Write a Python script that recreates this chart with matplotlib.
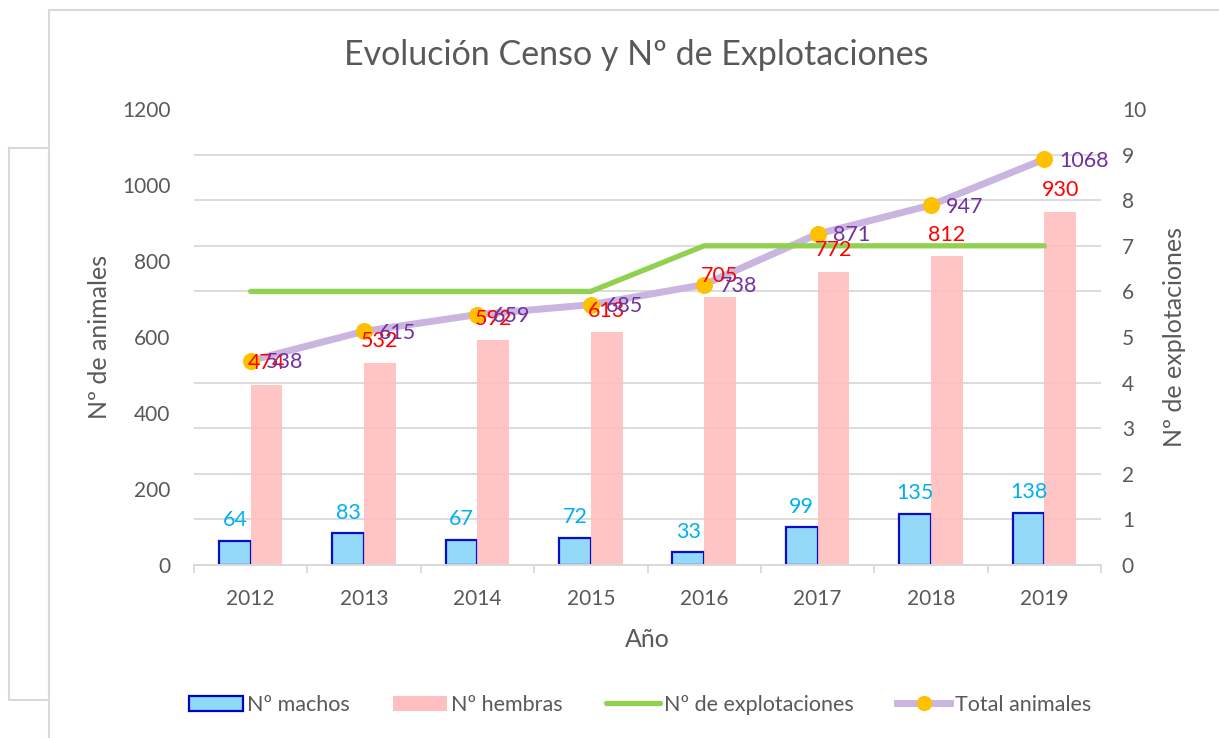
import numpy as np
import matplotlib.pyplot as plt
from matplotlib.lines import Line2D
from matplotlib.patches import Patch

plt.rcParams['font.family'] = ['Lato', 'DejaVu Sans']

years = ['2012', '2013', '2014', '2015', '2016', '2017', '2018', '2019']
machos = [64, 83, 67, 72, 33, 99, 135, 138]
hembras = [474, 532, 592, 613, 705, 772, 812, 930]
explotaciones = [6, 6, 6, 6, 7, 7, 7, 7]
total = [538, 615, 659, 685, 738, 871, 947, 1068]

text_grey = '#595959'
grid_grey = '#D9D9D9'
c_machos = '#8ED8F8'
c_machos_edge = '#0000C8'
c_hembras = '#FFBFBF'
c_expl = '#92D050'
c_total = '#C9B5E0'
c_marker = '#FFC000'

W, H = 1219, 738
fig = plt.figure(figsize=(W / 100, H / 100), dpi=100)

def fx(px):
    return px / W

def fy(py):
    return 1 - py / H

ax = fig.add_axes([fx(194), fy(565), fx(1101) - fx(194), fy(109) - fy(565)])
ax2 = ax.twinx()

x = np.arange(len(years))
bw = 0.28

# grid lines follow the secondary axis (0..10)
ax.set_ylim(0, 1200)
ax.set_yticks(np.arange(0, 1201, 200))
ax.set_yticks(np.linspace(0, 1200, 11), minor=True)
ax.grid(True, which='minor', axis='y', color=grid_grey, linewidth=1.3, zorder=0)
ax.set_axisbelow(True)

ax.bar(x - bw / 2, machos, bw, color=c_machos, edgecolor=c_machos_edge, linewidth=1.6, alpha=0.95, zorder=2)
ax.bar(x + bw / 2, hembras, bw, color=c_hembras, alpha=0.9, linewidth=0, zorder=2)
ax.plot(x, total, color=c_total, linewidth=5, zorder=3, solid_capstyle='round')
ax.scatter(x, total, s=150, color=c_marker, zorder=4, linewidths=0)

ax2.plot(x, explotaciones, color=c_expl, linewidth=3.8, solid_capstyle='round', zorder=3)
ax2.set_ylim(0, 10)
ax2.set_yticks(np.arange(0, 11, 1))

# data labels
for i in range(len(years)):
    ax2.annotate(str(machos[i]), xy=(x[i] - bw / 2, machos[i]), xycoords=ax.transData,
                 xytext=(0, 15), textcoords='offset points', ha='center', va='center',
                 color='#00B0F0', fontsize=15.5)
    ax2.annotate(str(hembras[i]), xy=(x[i] + bw / 2, hembras[i]), xycoords=ax.transData,
                 xytext=(0, 15.5), textcoords='offset points', ha='center', va='center',
                 color='#FF0000', fontsize=15.5)
    ax2.annotate(str(total[i]), xy=(x[i], total[i]), xycoords=ax.transData,
                 xytext=(11, -1), textcoords='offset points', ha='left', va='center',
                 color='#7030A0', fontsize=15.5)

ax.set_xlim(-0.5, len(years) - 0.5)
ax.set_xticks(x)
ax.set_xticklabels(years)
ax.set_xticks(np.arange(-0.5, len(years), 1), minor=True)
ax.tick_params(axis='x', which='major', length=0, pad=17, labelsize=15, labelcolor=text_grey)
ax.tick_params(axis='x', which='minor', length=6, color=grid_grey, width=1.3)
ax.tick_params(axis='y', which='both', length=0, pad=17, labelsize=15, labelcolor=text_grey)
ax2.tick_params(axis='y', length=0, pad=15, labelsize=15, labelcolor=text_grey)

for a in (ax, ax2):
    for s in ('top', 'left', 'right'):
        a.spines[s].set_visible(False)
    a.spines['bottom'].set_color(grid_grey)
    a.spines['bottom'].set_linewidth(1.3)

ax.set_xlabel('Año', fontsize=18, color=text_grey, labelpad=14)
ax.set_ylabel('Nº de animales', fontsize=18, color=text_grey, labelpad=8)
ax2.set_ylabel('Nº de explotaciones', fontsize=18, color=text_grey, labelpad=12)

fig.text(fx(636), fy(55), 'Evolución Censo y Nº de Explotaciones', ha='center', va='center',
         fontsize=24.5, color=text_grey)

handles = [
    Patch(facecolor=c_machos, edgecolor=c_machos_edge, linewidth=1.6),
    Patch(facecolor=c_hembras),
    Line2D([], [], color=c_expl, linewidth=3.8, solid_capstyle='round'),
    Line2D([], [], color=c_total, linewidth=5, marker='o', markersize=11,
           markerfacecolor=c_marker, markeredgewidth=0),
]
labels = ['Nº machos', 'Nº hembras', 'Nº de explotaciones', 'Total animales']
fig.legend(handles, labels, loc='center', bbox_to_anchor=(fx(640), fy(705)), ncol=4,
           frameon=False, fontsize=15.5, handlelength=2.5, handletextpad=0.2,
           columnspacing=2.0, labelcolor=text_grey)

# frame lines of the chart area
fig.add_artist(Line2D([fx(49), fx(49)], [fy(10), 0], color=grid_grey, linewidth=1.5))
fig.add_artist(Line2D([fx(49), 1], [fy(10), fy(10)], color=grid_grey, linewidth=1.5))
fig.add_artist(Line2D([fx(9), fx(49), fx(49), fx(9), fx(9)],
                      [fy(148), fy(148), fy(700), fy(700), fy(148)],
                      color=grid_grey, linewidth=1.5))

fig.savefig('out.png', dpi=100)
